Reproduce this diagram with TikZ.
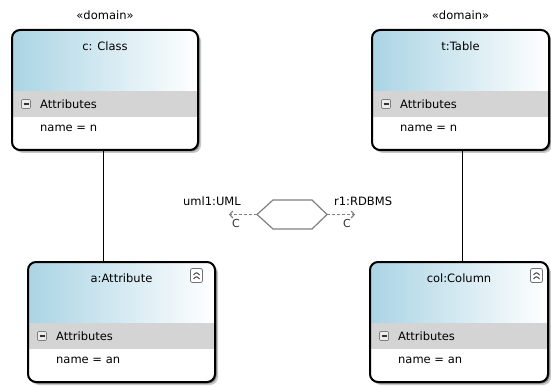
\documentclass[tikz,border=0pt]{standalone}
\usepackage{fontspec}
\setmainfont{DejaVu Sans}
\usetikzlibrary{arrows.meta,calc}
\definecolor{hdrblue}{RGB}{170,212,228}
\definecolor{bandgray}{RGB}{212,212,212}
\definecolor{linegray}{RGB}{128,128,128}
\tikzset{
  classbox/.style={draw=black, line width=2pt, rounded corners=8pt, anchor=north west,
    minimum height=120pt, inner sep=0pt, outer sep=0pt},
  lbl/.style={font=\fontsize{11.5}{13}\selectfont, inner sep=0pt},
  smalllbl/.style={font=\fontsize{11}{12}\selectfont, inner sep=0pt, text=black!80},
  minusicon/.style={draw=linegray, fill=black!8, minimum size=9pt, inner sep=0pt,
    rounded corners=1pt, line width=0.7pt,
    path picture={\draw[black!80, line width=1.1pt]
      ($(path picture bounding box.west)+(2,0)$) -- ($(path picture bounding box.east)+(-2,0)$);}},
  collapseicon/.style={draw=black!55, fill=white, minimum width=12pt, minimum height=14pt,
    inner sep=0pt, rounded corners=2pt, line width=0.8pt,
    path picture={\draw[black!75, line width=1pt]
      ($(path picture bounding box.center)+(-3,3.5)$) -- ++(3,-3) -- ++(3,3)
      ($(path picture bounding box.center)+(-3,-0.5)$) -- ++(3,-3) -- ++(3,3);}},
  hexstyle/.style={draw=linegray, line width=1.2pt, fill=white},
  dep/.style={draw=linegray, line width=1.8pt, dash pattern=on 3pt off 2pt,
    -{Straight Barb[length=3pt,width=7pt,line width=1.2pt]}},
  link/.style={draw=black, line width=1pt}
}
\newcommand\umlclass[6]{%
  \fill[black!22, rounded corners=8pt] (#2+3,#3+3) rectangle ++(#4,120);
  \fill[black!50, rounded corners=8pt] (#2+1.5,#3+1.5) rectangle ++(#4,120);
  \begin{scope}
    \clip[rounded corners=8pt] (#2,#3) rectangle ++(#4,120);
    \shade[left color=hdrblue, right color=white] (#2,#3) rectangle ++(#4,61);
    \fill[bandgray] (#2,#3+61) rectangle ++(#4,26);
    \fill[white] (#2,#3+87) rectangle ++(#4,33);
  \end{scope}
  \node[classbox, minimum width=#4pt] (#1) at (#2,#3) {};
  \node[lbl] (#1-title) at ($(#1.north)+(0,16.5)$) {#5};
  \node[minusicon] (#1-minus) at ($(#1.north west)+(14,74)$) {};
  \node[lbl, anchor=west] (#1-attrs) at ($(#1.north west)+(28,74)$) {Attributes};
  \node[lbl, anchor=west] (#1-name) at ($(#1.north west)+(28,98.5)$) {#6};
}
\begin{document}
\begin{tikzpicture}[x=1pt,y=-1pt]
  \useasboundingbox (0,0) rectangle (551,387);
  \fill[white] (0,0) rectangle (551,387);

  \umlclass{C}{12}{30}{186}{c: Class}{name = n}
  \umlclass{T}{372}{30}{177}{t:Table}{name = n}
  \umlclass{A}{28}{262}{187}{a:Attribute}{name = an}
  \umlclass{Col}{370}{262}{178}{col:Column}{name = an}

  \node[lbl] (C-st) at ($(C.north)+(0,-15)$) {«domain»};
  \node[lbl] (T-st) at ($(T.north)+(0,-15)$) {«domain»};

  \node[collapseicon] (A-col) at (196.5,275.5) {};
  \node[collapseicon] (Col-col) at (536.5,275.5) {};

  \draw[link] ([xshift=-2pt]C.south) -- ([xshift=-2pt]C.south |- A.north);
  \draw[link] ([xshift=1.5pt]T.south) -- ([xshift=1.5pt]T.south |- Col.north);

  % relation hexagon
  \draw[hexstyle] (257,214.5) coordinate (hL) -- (273,200) -- (312,200)
    -- (327,214.5) coordinate (hR) -- (312,229) -- (273,229) -- cycle;
  \coordinate (umlEnd) at (229,214.5);
  \coordinate (rdbEnd) at (355,214.5);
  \draw[dep] (hL) -- (umlEnd);
  \draw[dep] (hR) -- (rdbEnd);

  \node[lbl, anchor=base east] (umlL) at (241,206) {uml1:UML};
  \node[lbl, anchor=base west] (rdbL) at (334,206) {r1:RDBMS};
  \node[smalllbl] (umlC) at (236,223.5) {C};
  \node[smalllbl] (rdbC) at (347,223.5) {C};
\end{tikzpicture}
\end{document}
